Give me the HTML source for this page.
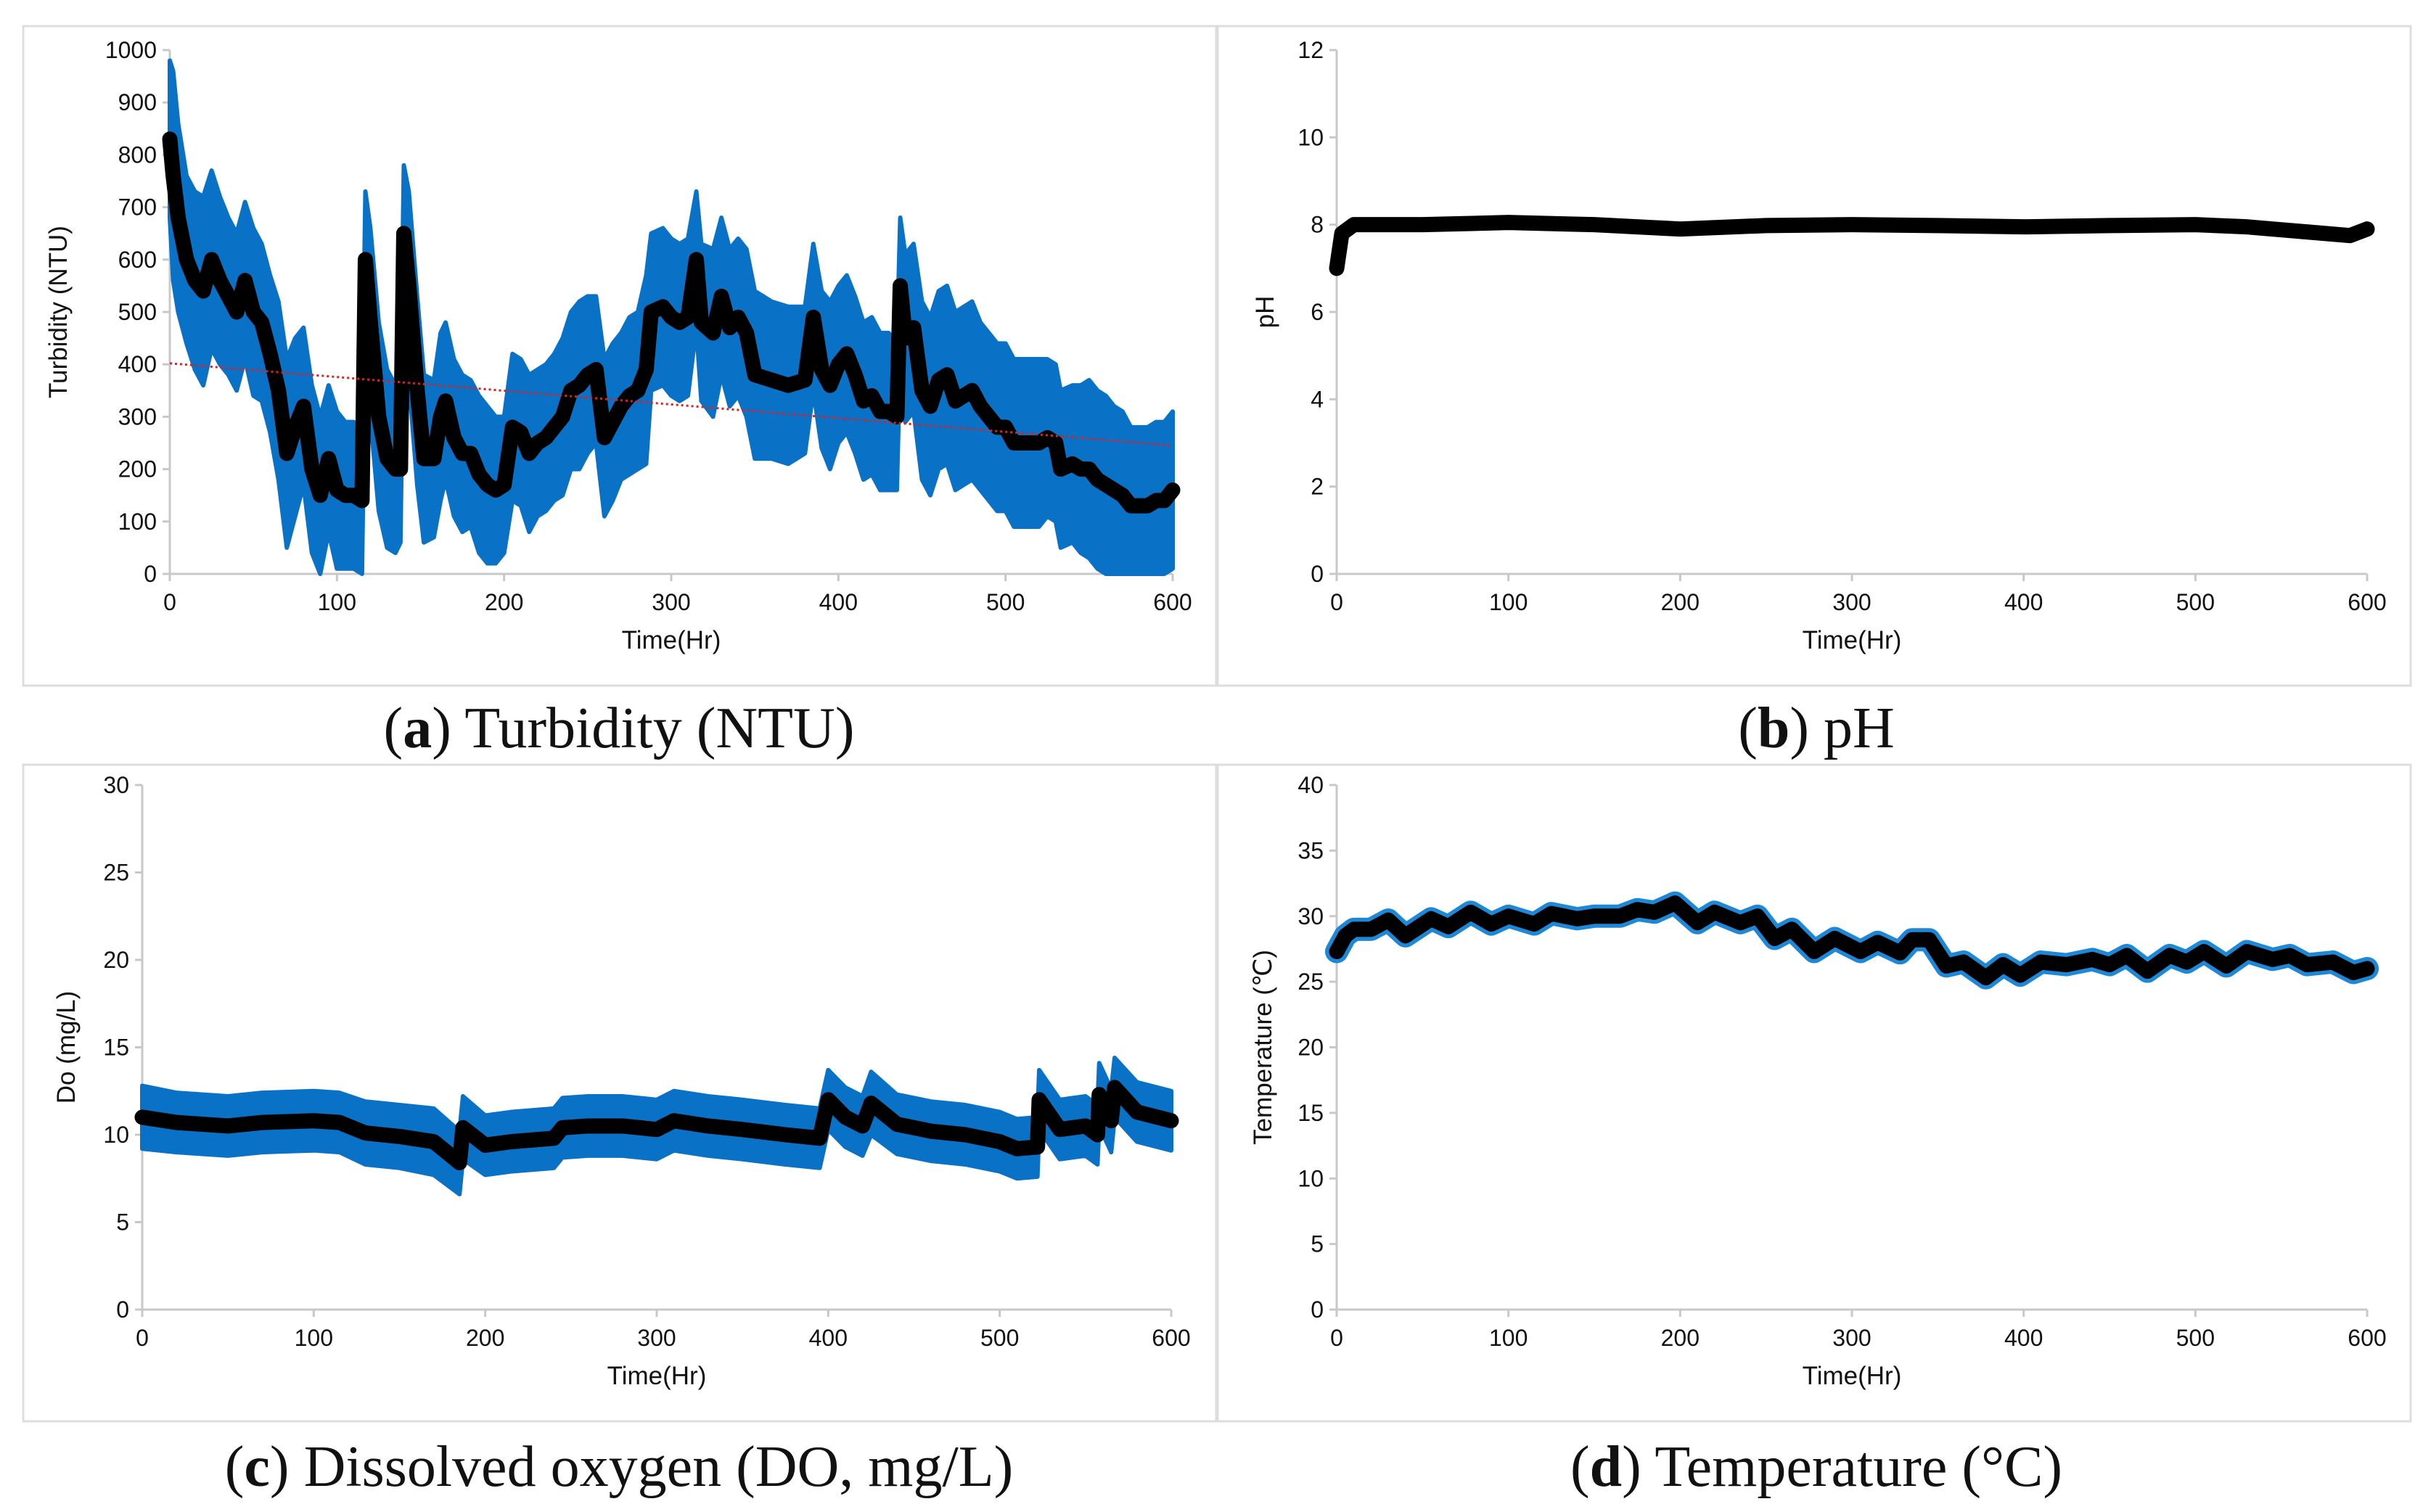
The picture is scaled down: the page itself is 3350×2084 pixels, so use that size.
<!DOCTYPE html>
<html><head><meta charset="utf-8"><style>
html,body{margin:0;padding:0;background:#fff}
svg{display:block}
.tk{font-family:"Liberation Sans",sans-serif;font-size:32px;fill:#111}
.at{font-family:"Liberation Sans",sans-serif;font-size:35px;fill:#111}
.cap{font-family:"Liberation Serif",serif;font-size:80px;fill:#111}
</style></head><body>
<svg id="fig" width="3350" height="2084" viewBox="0 0 3350 2084" xmlns="http://www.w3.org/2000/svg">
<rect x="32" y="36" width="1644" height="909" fill="none" stroke="#ddd" stroke-width="3"/>
<rect x="1678" y="36" width="1644" height="909" fill="none" stroke="#ddd" stroke-width="3"/>
<rect x="32" y="1054" width="1644" height="905" fill="none" stroke="#ddd" stroke-width="3"/>
<rect x="1678" y="1054" width="1644" height="905" fill="none" stroke="#ddd" stroke-width="3"/>
<text class="cap" x="853" y="1030" text-anchor="middle">(<tspan font-weight="bold">a</tspan>) Turbidity (NTU)</text>
<text class="cap" x="2503" y="1030" text-anchor="middle">(<tspan font-weight="bold">b</tspan>) pH</text>
<text class="cap" x="853" y="2048" text-anchor="middle">(<tspan font-weight="bold">c</tspan>) Dissolved oxygen (DO, mg/L)</text>
<text class="cap" x="2503" y="2048" text-anchor="middle">(<tspan font-weight="bold">d</tspan>) Temperature (°C)</text>
</svg>
<script>
// ---- Turbidity ----
const turbTime=[0,2,5,10,15,20,25,30,35,40,45,50,55,60,65,70,75,80,85,90,95,100,105,110,115,117,120,125,130,135,138,140,143,148,152,158,162,165,170,175,180,185,190,195,200,205,210,215,220,225,230,235,240,245,250,255,260,265,270,275,280,285,288,295,300,305,310,315,318,325,330,335,340,345,350,360,370,380,385,390,395,400,405,410,415,420,425,430,435,437,440,445,450,455,460,465,470,475,480,485,490,495,500,505,510,520,525,530,533,540,545,550,555,560,565,570,575,580,585,590,595,600];
const turbMean=[830,760,680,600,560,540,600,560,530,500,560,500,480,420,350,230,280,320,200,150,220,160,150,150,140,600,480,300,220,200,200,650,550,350,220,220,300,330,260,230,230,190,170,160,170,280,270,230,250,260,280,300,350,360,380,390,260,290,320,340,350,390,500,510,490,480,490,600,480,460,530,470,490,460,380,370,360,370,490,390,360,400,420,380,330,340,310,310,300,550,450,470,350,320,370,380,330,340,350,320,300,280,280,250,250,250,260,250,200,210,200,200,180,170,160,150,130,130,130,140,140,160];
const turbErr=[150,200,180,160,170,180,170,160,150,150,150,160,150,150,170,180,170,150,160,150,140,150,140,140,140,130,180,180,170,160,140,130,180,180,160,150,160,150,150,150,140,150,150,140,130,140,140,150,140,140,140,150,150,160,150,140,150,150,140,150,150,180,150,150,150,150,150,130,150,160,150,150,150,160,160,150,150,140,140,150,160,150,150,150,150,150,150,150,140,130,160,160,170,170,170,170,170,170,170,160,160,160,160,160,160,160,150,150,150,150,160,170,170,170,160,160,150,150,150,150,150,150];
const turbTrend=[402,245];
const turbTicks=[0,100,200,300,400,500,600,700,800,900,1000];
// ---- pH ----
const phTime=[0,3,10,50,100,150,200,250,300,350,400,450,500,530,560,590,600];
const phMean=[7.0,7.8,8.0,8.0,8.05,8.0,7.9,7.98,8.0,7.98,7.95,7.98,8.0,7.95,7.85,7.75,7.9];
const phTicks=[0,2,4,6,8,10,12];
// ---- DO ----
const doTime=[0,20,50,70,100,115,130,150,170,185,187,200,215,240,245,260,280,300,310,330,350,375,395,400,410,420,425,440,460,480,500,510,522,523,535,550,557,558,565,567,580,600];
const doMean=[11,10.7,10.5,10.7,10.8,10.7,10.1,9.9,9.6,8.4,10.4,9.4,9.6,9.8,10.4,10.5,10.5,10.3,10.8,10.5,10.3,10.0,9.8,12,11,10.5,11.8,10.6,10.2,10.0,9.6,9.2,9.3,12,10.3,10.5,10.0,12.3,10.8,12.7,11.3,10.8];
const doErr=[1.8,1.7,1.7,1.7,1.7,1.7,1.8,1.8,1.9,1.8,1.8,1.7,1.7,1.7,1.7,1.7,1.7,1.7,1.7,1.7,1.7,1.7,1.7,1.7,1.7,1.7,1.8,1.7,1.7,1.7,1.7,1.7,1.7,1.7,1.7,1.7,1.7,1.8,1.8,1.7,1.7,1.7];
const doTicks=[0,5,10,15,20,25,30];
// ---- Temperature ----
const tTime=[0,5,10,20,30,40,55,65,78,90,100,115,125,140,150,165,175,185,197,210,220,235,245,255,265,278,290,305,315,328,335,345,355,365,378,388,398,410,425,440,450,460,472,485,495,505,518,530,545,555,565,580,592,600];
const tMean=[27.3,28.5,29,29,29.7,28.5,29.8,29.2,30.3,29.4,30,29.4,30.2,29.8,30,30,30.5,30.3,31,29.5,30.3,29.5,30,28.3,29,27.3,28.3,27.3,28,27.2,28.2,28.2,26.2,26.5,25.3,26.3,25.5,26.5,26.3,26.7,26.3,27,25.8,27,26.5,27.3,26.2,27.3,26.7,27,26.3,26.5,25.7,26];
const tTicks=[0,5,10,15,20,25,30,35,40];
const xTicks=[0,100,200,300,400,500,600];

const NS="http://www.w3.org/2000/svg";
const svg=document.getElementById('fig');
function mk(tag,attrs,parent){const e=document.createElementNS(NS,tag);for(const k in attrs)e.setAttribute(k,attrs[k]);(parent||svg).appendChild(e);return e;}

function axes(p,key){
  const g=mk('g',{});
  
  
  const l1=mk('line',{x1:p.x0,y1:p.y0,x2:p.x0,y2:p.y1,stroke:'#c8c8c8','stroke-width':3},g);
  
  
  const l2=mk('line',{x1:p.x0,y1:p.y0,x2:p.x1,y2:p.y0,stroke:'#c8c8c8','stroke-width':3},g);
  
  
  p.yt.forEach(v=>{
    const y=p.sy(v);
    mk('line',{x1:p.x0-10,y1:y,x2:p.x0,y2:y,stroke:'#c8c8c8','stroke-width':3},g);
    const t=mk('text',{x:p.x0-18,y:y+11,'text-anchor':'end',class:'tk'},g);t.textContent=v;
    
    
  });
  xTicks.forEach(v=>{
    const x=p.sx(v);
    mk('line',{x1:x,y1:p.y0,x2:x,y2:p.y0+10,stroke:'#c8c8c8','stroke-width':3},g);
    const t=mk('text',{x:x,y:p.y0+50,'text-anchor':'middle',class:'tk'},g);t.textContent=v;
    
    
  });
  const xt=mk('text',{x:(p.x0+p.x1)/2,y:p.y0+103,'text-anchor':'middle',class:'at'},g);xt.textContent='Time(Hr)';
  
  
  const yt=mk('text',{x:0,y:0,'text-anchor':'middle',class:'at',transform:`translate(${p.ytx},${(p.y0+p.y1)/2}) rotate(-90)`},g);yt.textContent=p.ylab;
  
  
}
function panel(x0,x1,y0,y1,ymax,yt,ylab,ytx){
  return {x0,x1,y0,y1,yt,ylab,ytx,sx:v=>x0+(x1-x0)*v/600,sy:v=>y0-(y0-y1)*v/ymax};
}
function band(p,ts,m,e,key,clip0){
  let up=ts.map((t,i)=>p.sx(t)+','+p.sy(m[i]+e[i]));
  let lo=ts.map((t,i)=>p.sx(t)+','+p.sy(clip0?Math.max(0,m[i]-e[i]):m[i]-e[i])).reverse();
  const b=mk('polygon',{points:up.concat(lo).join(' '),fill:'#0a72c6',stroke:'#0a72c6','stroke-width':6,'stroke-linejoin':'round'});
  
  
}
function line(p,ts,m,key,w){
  const pl=mk('polyline',{points:ts.map((t,i)=>p.sx(t)+','+p.sy(m[i])).join(' '),fill:'none',stroke:'#000','stroke-width':w,'stroke-linejoin':'round','stroke-linecap':'round'});
  
  
}

const pa=panel(234,1616,791,69,1000,turbTicks,'Turbidity (NTU)',92);
const pb=panel(1842,3262,791,69,12,phTicks,'pH',1755);
const pc=panel(196,1614,1805,1082,30,doTicks,'Do (mg/L)',103);
const pd=panel(1842,3262,1805,1082,40,tTicks,'Temperature (℃)',1752);
[[pa,'turbidity'],[pb,'ph'],[pc,'do'],[pd,'temperature']].forEach(([p,k])=>axes(p,k));

band(pa,turbTime,turbMean,turbErr,'turbidity',true);
line(pa,turbTime,turbMean,'turbidity',21);
const tr=mk('line',{x1:pa.sx(0),y1:pa.sy(turbTrend[0]),x2:pa.sx(600),y2:pa.sy(turbTrend[1]),stroke:'#e0201e','stroke-width':3,'stroke-dasharray':'3 4'});



line(pb,phTime,phMean,'ph',21);

band(pc,doTime,doMean,doErr,'do',false);
line(pc,doTime,doMean,'do',21);

const tb=mk('polyline',{points:tTime.map((t,i)=>pd.sx(t)+','+pd.sy(tMean[i])).join(' '),fill:'none',stroke:'#1e88d8','stroke-width':32,'stroke-linejoin':'round','stroke-linecap':'round'});


line(pd,tTime,tMean,'temperature',21);
</script>
</body></html>
